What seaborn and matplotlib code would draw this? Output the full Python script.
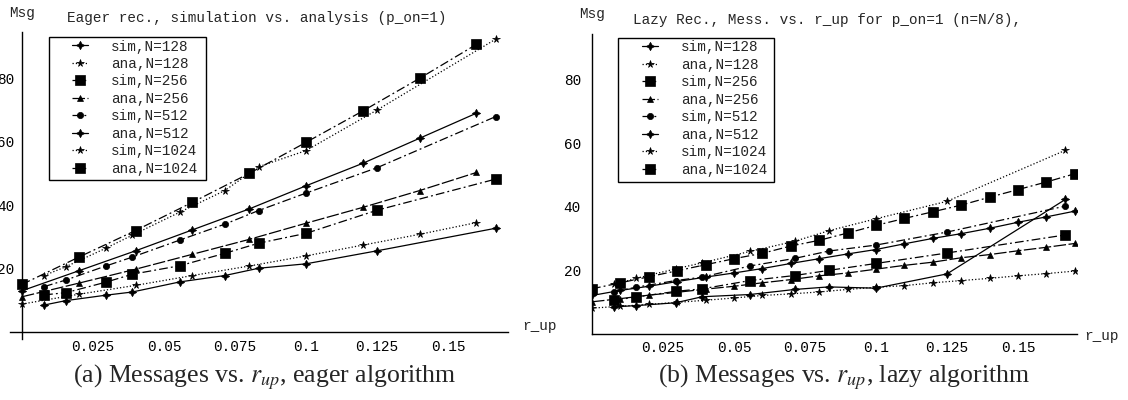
import matplotlib
matplotlib.use("Agg")
import matplotlib.pyplot as plt
import matplotlib.patches as mpatches
import seaborn as sns

# Valores de r_up: las series "sim" usan pocos puntos, las "ana" una malla regular
x_sim = [0.0078, 0.0155, 0.0295, 0.0388, 0.0556, 0.0714, 0.0833, 0.1, 0.125, 0.1667]
x_ana_eager = [0.0, 0.02, 0.04, 0.06, 0.08, 0.10, 0.12, 0.14, 0.16]
x_ana_lazy = [0.0, 0.01, 0.02, 0.03, 0.04, 0.05, 0.06, 0.07, 0.08, 0.09,
              0.10, 0.11, 0.12, 0.13, 0.14, 0.15, 0.16, 0.17]

# (a) algoritmo eager
eager_sim_128 = [8.5, 9.9, 11.6, 12.6, 15.8, 17.8, 20.1, 21.5, 25.6, 32.7]
eager_ana_128 = [8.8, 11.9, 14.7, 17.8, 20.8, 24.0, 27.4, 30.8, 34.5]
eager_sim_256 = [11.7, 12.4, 15.7, 18.2, 20.9, 24.8, 28.0, 31.1, 38.4, 48.2]
eager_ana_256 = [11.1, 15.4, 19.8, 24.5, 29.2, 34.3, 39.3, 44.6, 50.3]
eager_sim_512 = [14.3, 16.4, 20.8, 23.6, 29.0, 34.0, 38.3, 43.8, 51.8, 67.9]
eager_ana_512 = [13.0, 19.3, 25.6, 32.2, 38.8, 46.1, 53.2, 61.1, 69.0]
eager_sim_1024 = [17.8, 20.6, 26.4, 30.5, 37.8, 44.6, 52.1, 57.2, 70.0, 92.3]
eager_ana_1024 = [15.0, 23.6, 32.0, 40.9, 50.0, 59.8, 69.7, 80.0, 90.7]

# (b) algoritmo lazy
lazy_sim_128 = [8.4, 8.8, 9.7, 11.6, 12.3, 13.9, 14.7, 14.3, 18.8, 42.3]
lazy_ana_128 = [8.0, 8.6, 9.2, 9.8, 10.5, 11.2, 12.0, 12.5, 13.1, 13.9,
                14.6, 15.1, 16.0, 16.7, 17.4, 18.2, 18.9, 19.7]
lazy_sim_256 = [10.5, 11.5, 13.3, 14.1, 16.7, 18.3, 19.9, 22.1, 25.4, 31.1]
lazy_ana_256 = [10.0, 11.0, 12.1, 13.0, 14.0, 14.9, 16.0, 17.0, 18.2, 19.1,
                20.3, 21.5, 22.5, 23.9, 24.9, 26.1, 27.2, 28.4]
lazy_sim_512 = [13.2, 14.6, 16.7, 17.8, 21.3, 23.7, 26.0, 27.9, 32.0, 40.2]
lazy_ana_512 = [12.0, 13.6, 14.9, 16.4, 17.8, 19.1, 20.5, 22.1, 23.6, 25.1,
                26.5, 28.3, 30.0, 31.5, 33.2, 35.1, 36.8, 38.6]
lazy_sim_1024 = [15.5, 17.4, 20.4, 22.3, 25.9, 29.1, 32.4, 36.2, 41.7, 57.8]
lazy_ana_1024 = [14.1, 16.0, 17.9, 19.8, 21.7, 23.6, 25.3, 27.6, 29.4, 31.7,
                 34.1, 36.3, 38.4, 40.5, 43.0, 45.4, 47.8, 50.4]

series_labels = ["sim,N=128", "ana,N=128", "sim,N=256", "ana,N=256",
                 "sim,N=512", "ana,N=512", "sim,N=1024", "ana,N=1024"]
x_tick_vals = [0.025, 0.05, 0.075, 0.1, 0.125, 0.15]
x_tick_labels = ["0.025", "0.05", "0.075", "0.1", "0.125", "0.15"]
y_tick_vals = [20, 40, 60, 80]

# Estilo de cada serie (todo en negro, como en el original)
dashdot = (0, (7, 2.5, 1.5, 2.5))
estilos = {
    "sim,N=128": dict(linestyle="-", marker=(4, 1, 0), markersize=6),
    "ana,N=128": dict(linestyle=":", marker="*", markersize=5.5),
    "sim,N=256": dict(linestyle=dashdot, marker="s", markersize=6.5),
    "ana,N=256": dict(linestyle=(0, (10, 2)), marker="^", markersize=4.5),
    "sim,N=512": dict(linestyle=dashdot, marker="o", markersize=4.5),
    "ana,N=512": dict(linestyle="-", marker=(4, 1, 0), markersize=6),
    "sim,N=1024": dict(linestyle=":", marker="*", markersize=5.5),
    "ana,N=1024": dict(linestyle=dashdot, marker="s", markersize=6.5),
}

sns.set_style("white")
MONO = ["Liberation Mono", "DejaVu Sans Mono"]
plt.rcParams["font.family"] = MONO
plt.rcParams["mathtext.fontset"] = "stix"

W, H = 1128, 400
fig = plt.figure(figsize=(W / 100, H / 100), dpi=100)


def ejes_px(x0, y_top, x1, y_bot):
    # crea unos ejes a partir de coordenadas en pixeles de la figura
    return fig.add_axes([x0 / W, 1 - y_bot / H, (x1 - x0) / W, (y_bot - y_top) / H])


def dibujar_panel(ax, datos, xlim, ylim, ypad):
    for label, (xs, ys) in zip(series_labels, datos):
        sns.lineplot(x=xs, y=ys, ax=ax, color="black", linewidth=0.9,
                     markerfacecolor="black", markeredgecolor="black",
                     markeredgewidth=0.5, label=label, legend=False,
                     errorbar=None, **estilos[label])

    ax.set_xlim(*xlim)
    ax.set_ylim(*ylim)
    ax.set_xlabel("")
    ax.set_ylabel("")

    # Ejes estilo Mathematica cruzando en el origen
    for lado in ["top", "right"]:
        ax.spines[lado].set_visible(False)
    ax.spines["left"].set_position(("data", 0))
    ax.spines["bottom"].set_position(("data", 0))
    for lado in ["left", "bottom"]:
        ax.spines[lado].set_linewidth(1.0)
        ax.spines[lado].set_color("black")

    ax.set_xticks(x_tick_vals)
    ax.set_xticklabels(x_tick_labels)
    ax.set_xticks([i * 0.005 for i in range(1, 35)], minor=True)
    ax.set_yticks(y_tick_vals)
    ax.set_yticks([i * 5 for i in range(1, 19)], minor=True)
    ax.tick_params(which="both", direction="in", color="black", width=0.8)
    ax.tick_params(which="major", length=4.5, labelsize=10.4, colors="black")
    ax.tick_params(which="minor", length=2.5)
    ax.tick_params(axis="x", pad=5.5)
    ax.tick_params(axis="y", pad=ypad)
    ax.patch.set_alpha(0)


def leyenda(ax, x_handle, y_top, caja):
    handles, labels = ax.get_legend_handles_labels()
    ax.legend(handles, labels, loc="upper left",
              bbox_to_anchor=(x_handle / W, 1 - y_top / H),
              bbox_transform=fig.transFigure, frameon=False, borderpad=0,
              borderaxespad=0, handlelength=1.1, handletextpad=1.6,
              labelspacing=0.24, fontsize=10.4, numpoints=1)
    x0, y0, x1, y1 = caja
    fig.patches.append(mpatches.Rectangle((x0 / W, 1 - y1 / H), (x1 - x0) / W,
                                          (y1 - y0) / H, transform=fig.transFigure,
                                          fill=False, edgecolor="black", linewidth=1.0))


# Panel (a): eager
ax1 = ejes_px(10, 32, 508, 339)
datos_eager = [(x_sim, eager_sim_128), (x_ana_eager, eager_ana_128),
               (x_sim, eager_sim_256), (x_ana_eager, eager_ana_256),
               (x_sim, eager_sim_512), (x_ana_eager, eager_ana_512),
               (x_sim, eager_sim_1024), (x_ana_eager, eager_ana_1024)]
dibujar_panel(ax1, datos_eager, (-0.0042, 0.1711), (-2.21, 94.6), ypad=5.4)
leyenda(ax1, 72, 39.5, (49, 37, 206, 180))

# Panel (b): lazy
ax2 = ejes_px(592, 34, 1077, 333.5)
datos_lazy = [(x_sim, lazy_sim_128), (x_ana_lazy, lazy_ana_128),
              (x_sim, lazy_sim_256), (x_ana_lazy, lazy_ana_256),
              (x_sim, lazy_sim_512), (x_ana_lazy, lazy_ana_512),
              (x_sim, lazy_sim_1024), (x_ana_lazy, lazy_ana_1024)]
dibujar_panel(ax2, datos_lazy, (0, 0.1708), (0, 94.5), ypad=8)
leyenda(ax2, 642, 40.5, (618, 38, 774, 182))

# Textos de los ejes y titulos
def texto(x, y, s, **kw):
    fig.text(x / W, 1 - y / H, s, va="center", **kw)

texto(22, 13, "Msg", ha="center", fontsize=10.4)
texto(67, 18, "Eager rec., simulation vs. analysis (p_on=1)", ha="left", fontsize=10.4)
texto(522, 326, "r_up", ha="left", fontsize=10.4)
texto(592, 14, "Msg", ha="center", fontsize=10.4)
texto(633, 20, "Lazy Rec., Mess. vs. r_up for p_on=1 (n=N/8),", ha="left", fontsize=10.4)
texto(1084, 336, "r_up", ha="left", fontsize=10.4)

# Pies de figura
texto(265, 377, "(a) Messages vs. $r_{up}$, eager algorithm", ha="center",
      fontsize=18.5, family=["Liberation Serif", "DejaVu Serif"])
texto(844, 377, "(b) Messages vs. $r_{up}$, lazy algorithm", ha="center",
      fontsize=18.5, family=["Liberation Serif", "DejaVu Serif"])

fig.savefig("out.png", dpi=100)
